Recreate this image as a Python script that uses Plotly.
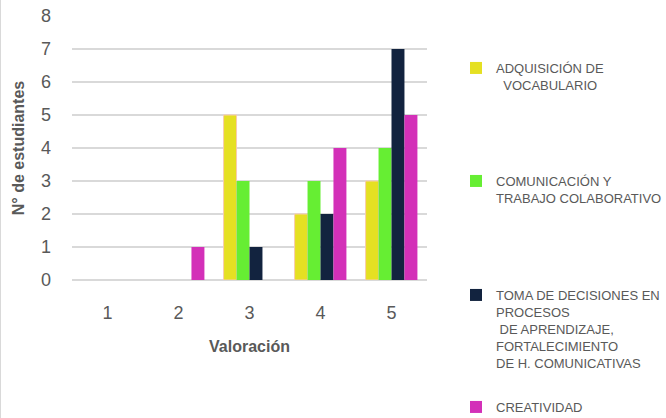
import plotly.graph_objects as go

categories = ["1", "2", "3", "4", "5"]
series_names = [
    "ADQUISICIÓN DE<br>  VOCABULARIO",
    "COMUNICACIÓN Y<br>TRABAJO COLABORATIVO",
    "TOMA DE DECISIONES EN<br>PROCESOS<br> DE APRENDIZAJE,<br>FORTALECIMIENTO<br>DE H. COMUNICATIVAS",
    "CREATIVIDAD",
]
adquisicion = [0, 0, 5, 2, 3]
comunicacion = [0, 0, 3, 3, 4]
toma_decisiones = [0, 0, 1, 2, 7]
creatividad = [0, 1, 0, 4, 5]
y_ticks = [0, 1, 2, 3, 4, 5, 6, 7, 8]

values = [adquisicion, comunicacion, toma_decisiones, creatividad]
colors = ["#E5E022", "#66EE33", "#12233F", "#D330B8"]
line_colors = ["#F8CBAD", None, None, None]
legend_ids = ["legend", "legend2", "legend3", "legend4"]

FONT = "Liberation Sans"
GRAY = "#595959"

fig = go.Figure()
for name, vals, c, lc, lg in zip(series_names, values, colors, line_colors, legend_ids):
    if lc is None:
        line = dict(width=0)
    else:
        line = dict(color=lc, width=[1 if v else 0 for v in vals])
    fig.add_trace(go.Bar(
        x=categories, y=vals, name=name,
        marker=dict(color=c, line=line),
        legend=lg,
    ))

# plot area: x 72..427 px, y 16..280 px
W, H = 666, 418
L, R, T, B = 72, 427, 16, 280
pw, ph = R - L, B - T

def px_x(p):
    return (p - L) / pw

def px_y(p):
    return (B - p) / ph

legend_tops = [53, 166, 280, 392]
legend_common = dict(
    font=dict(family=FONT, size=13, color=GRAY),
    bgcolor="rgba(0,0,0,0)", xanchor="left", yanchor="top",
    xref="container", yref="container",
    valign="top", itemclick=False, itemdoubleclick=False,
)
layout_legends = {}
for lg, top in zip(legend_ids, legend_tops):
    layout_legends[lg] = dict(x=456 / W, y=1 - top / H, **legend_common)

fig.update_layout(
    width=W, height=H,
    margin=dict(l=L, r=W - R, t=T, b=H - B, pad=0, autoexpand=False),
    paper_bgcolor="white", plot_bgcolor="white",
    barmode="group", bargap=0.27, bargroupgap=0,
    showlegend=True,
    font=dict(family=FONT, color=GRAY),
    xaxis=dict(
        type="category",
        tickfont=dict(family=FONT, size=18, color=GRAY),
        ticklabelstandoff=20,
        showgrid=False, zeroline=False, showline=False,
        title=dict(text="<b>Valoración</b>", font=dict(family=FONT, size=16, color=GRAY), standoff=18),
    ),
    yaxis=dict(
        range=[0, 8], tickvals=y_ticks,
        tickfont=dict(family=FONT, size=18, color=GRAY),
        ticklabelstandoff=20,
        showgrid=True, gridcolor="#D9D9D9", gridwidth=1.5,
        zeroline=True, zerolinecolor="#D9D9D9", zerolinewidth=1.5,
        showline=False,
        title=dict(text="<b>N° de estudiantes</b>", font=dict(family=FONT, size=16, color=GRAY), standoff=12),
    ),
    shapes=[dict(type="line", xref="paper", yref="paper",
                 x0=px_x(0.5), x1=px_x(0.5), y0=px_y(0), y1=px_y(H),
                 line=dict(color="#D9D9D9", width=1))],
    **layout_legends,
)

fig.write_html("out.html", config={"displayModeBar": False},
               post_script="document.body.style.margin='0';")
